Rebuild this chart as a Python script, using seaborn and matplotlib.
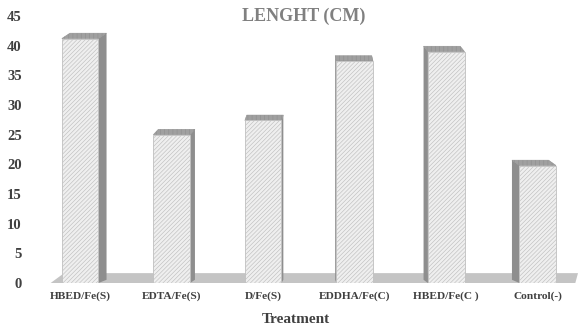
import matplotlib
matplotlib.use("Agg")
import matplotlib.pyplot as plt
import seaborn as sns
import pandas as pd
from matplotlib.patches import Polygon

categories = ["HBED/Fe(S)", "EDTA/Fe(S)", "D/Fe(S)", "EDDHA/Fe(C)", "HBED/Fe(C )", "Control(-)"]
values = [41.2, 25.0, 27.4, 37.4, 39.0, 19.8]
yticks = [0, 5, 10, 15, 20, 25, 30, 35, 40, 45]

df = pd.DataFrame({"Treatment": categories, "Length": values})

sns.set_theme(style="white")
plt.rcParams["font.family"] = ["Liberation Serif", "DejaVu Serif"]
plt.rcParams["hatch.color"] = "#bcbcbc"
plt.rcParams["hatch.linewidth"] = 0.45

fig = plt.figure(figsize=(5.78, 3.29), dpi=100)
ax = fig.add_axes([0.069, 0.1398, 0.931, 0.8116])

sns.barplot(data=df, x="Treatment", y="Length", ax=ax, color="#efefef",
            width=0.4, edgecolor="#c0c0c0", linewidth=0.6, saturation=1, zorder=3)

ax.set_xlim(-0.44, 5.44)
ax.set_ylim(0, 45)

# floor band
floor = Polygon([(0.02, 0.0), (0.995, 0.0), (1.0, 0.037), (0.045, 0.037)],
                closed=True, transform=ax.transAxes, facecolor="#c4c4c4",
                edgecolor="none", zorder=1)
ax.add_patch(floor)

# pseudo-3D faces derived from bars
k = 0.034
for i, p in enumerate(ax.patches[:len(values)]):
    p.set_hatch("////////")
    x0 = p.get_x(); w = p.get_width(); h = p.get_height()
    c = x0 + w / 2
    off = k * (c - 2.6)
    depth = 0.9
    if off < 0:
        side = [(x0 + w, 0), (x0 + w - off, depth * 0.6), (x0 + w - off, h + depth), (x0 + w, h)]
    else:
        side = [(x0, 0), (x0 - off, depth * 0.6), (x0 - off, h + depth), (x0, h)]
    top = [(x0, h), (x0 + w, h), (x0 + w - off, h + depth), (x0 - off, h + depth)]
    ax.add_patch(Polygon(side, closed=True, facecolor="#8e8e8e", edgecolor="none", zorder=2.9))
    ax.add_patch(Polygon(top, closed=True, facecolor="#a0a0a0", edgecolor="#909090",
                         linewidth=0.4, zorder=2.9, hatch="||||"))

ax.set_yticks(yticks)
ax.set_yticklabels([str(t) for t in yticks], fontsize=10.5, fontweight="bold", color="#404040")
ax.tick_params(axis="y", length=0, pad=13)
ax.tick_params(axis="x", length=0, pad=6)
for lab in ax.get_xticklabels():
    lab.set_fontsize(8.2)
    lab.set_fontweight("bold")
    lab.set_color("#404040")

for s in ax.spines.values():
    s.set_visible(False)

ax.set_ylabel("")
ax.set_xlabel("Treatment", fontsize=11, fontweight="bold", color="#404040")
ax.xaxis.label.set_verticalalignment("center")
ax.xaxis.set_label_coords(0.476, -0.138)
fig.text(0.525, 0.951, "LENGHT (CM)", ha="center", va="center", fontsize=13,
         fontweight="bold", color="#808080")

fig.savefig("out.png", dpi=100)
